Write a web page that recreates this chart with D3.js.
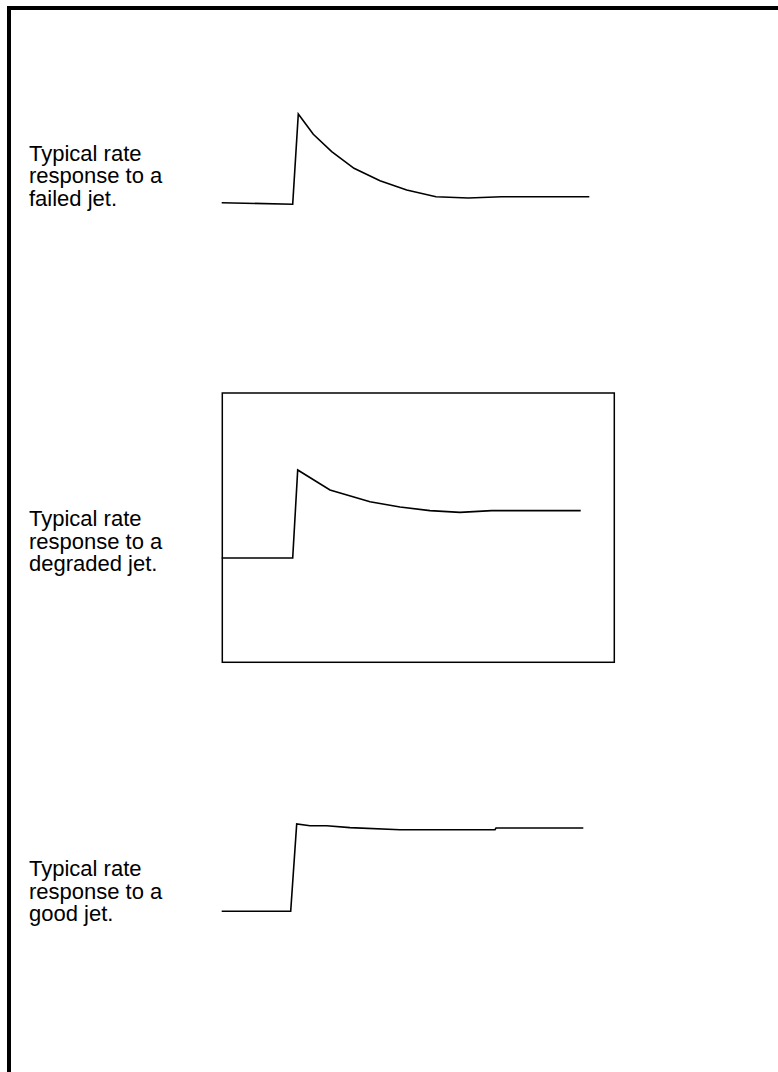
<!DOCTYPE html>
<html>
<head>
<meta charset="utf-8">
<script src="https://cdn.jsdelivr.net/npm/d3@7"></script>
<style>
    body { margin: 0; background: #fff; }
    .label { font-family: "Liberation Sans", Arial, sans-serif; font-size: 22px; fill: #000; }
    .trace { fill: none; stroke: #000; stroke-width: 1.6; stroke-linejoin: miter; }
</style>
</head>
<body>
<div id="chart"></div>
<script>
// time (arbitrary units) and rate (% of peak)
var failedTime = [0, 71, 76.6, 91.6, 110, 132.3, 158.3, 185, 214.3, 246.6, 280, 367.6];
var failedRate = [1.8, 0, 100, 77.5, 58.3, 39.9, 26.1, 15.8, 8.4, 7.0, 8.4, 8.4];

var degradedTime = [0, 71, 76, 108.3, 148.3, 178.3, 208.3, 238.3, 270, 359];
var degradedRate = [0, 0, 100, 77.3, 64, 58, 53.8, 51.9, 53.8, 53.8];

var goodTime = [0, 69, 75, 88.3, 105, 128.3, 178.3, 273.3, 274.3, 361.6];
var goodRate = [0, 0, 100, 98, 98, 95.8, 93.5, 93.5, 95.4, 95.4];

var failedLabel = ['Typical rate', 'response to a', 'failed jet.'];
var degradedLabel = ['Typical rate', 'response to a', 'degraded jet.'];
var goodLabel = ['Typical rate', 'response to a', 'good jet.'];

var width = 778, height = 1072;

var svg = d3.select('#chart')
    .append('svg')
    .attr('width', width)
    .attr('height', height);

// page frame (left and top only, the rest runs off the page)
svg.append('path')
    .attr('d', 'M9,' + height + 'V8H' + width)
    .attr('fill', 'none')
    .attr('stroke', '#000')
    .attr('stroke-width', 4);

var x = d3.scaleLinear()
    .domain([0, 370])
    .range([221.7, 591.7]);

var panels = [
    { time: failedTime, rate: failedRate, label: failedLabel, y0: 204.3, y1: 114, textY: 160.7, box: false },
    { time: degradedTime, rate: degradedRate, label: degradedLabel, y0: 558, y1: 470, textY: 526, box: true },
    { time: goodTime, rate: goodRate, label: goodLabel, y0: 911.3, y1: 824, textY: 876, box: false }
];

panels.forEach(function(p) {
    var y = d3.scaleLinear()
        .domain([0, 100])
        .range([p.y0, p.y1]);
    var g = svg.append('g');

    if (p.box) {
        // frame around the degraded trace, in the same units
        g.append('rect')
            .attr('x', x(0.6))
            .attr('y', y(187.5))
            .attr('width', x(392.6) - x(0.6))
            .attr('height', y(-118.5) - y(187.5))
            .attr('fill', 'none')
            .attr('stroke', '#000')
            .attr('stroke-width', 1.5);
    }

    var line = d3.line()
        .x(function(d, i) { return x(p.time[i]); })
        .y(function(d) { return y(d); });

    g.append('path')
        .datum(p.rate)
        .attr('class', 'trace')
        .attr('d', line);

    g.selectAll('text')
        .data(p.label)
        .enter()
        .append('text')
        .attr('class', 'label')
        .attr('x', 29)
        .attr('y', function(d, i) { return p.textY + i * 22.6; })
        .text(function(d) { return d; });
});
</script>
</body>
</html>
